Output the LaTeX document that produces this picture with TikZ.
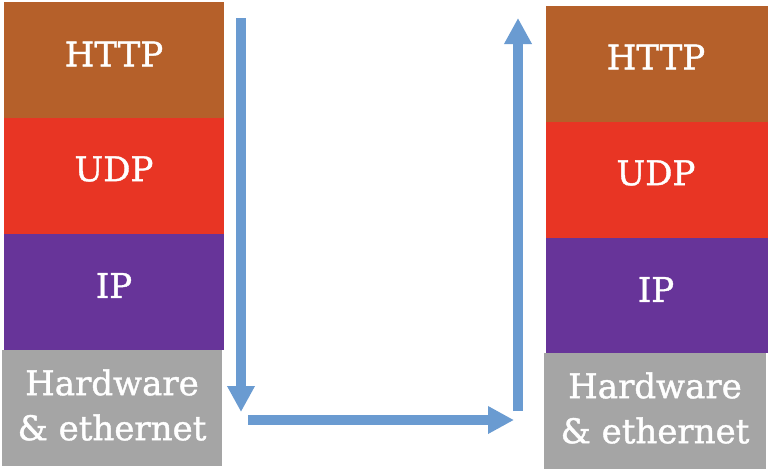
\documentclass[tikz,border=0pt]{standalone}
\usepackage{fontspec}
\setmainfont{DejaVu Serif}
\newfontfamily\lblfont[FakeBold=1.2]{DejaVu Serif}
\usetikzlibrary{arrows.meta}
\definecolor{cbrown}{HTML}{B5602A}
\definecolor{cred}{HTML}{E83524}
\definecolor{cpurple}{HTML}{673499}
\definecolor{cgray}{HTML}{A5A5A5}
\definecolor{cblue}{HTML}{6A9BD1}
\tikzset{
  lbl/.style={text=white, font=\lblfont\fontsize{25.5}{33.75}\selectfont, align=center, inner sep=0pt},
  flow/.style={draw=cblue, line width=7.5pt, -{Triangle[width=19.5pt,length=19.5pt]}}
}
\begin{document}
\begin{tikzpicture}[x=0.75pt,y=-0.75pt]
\useasboundingbox (0,0) rectangle (768,472);
% left stack
\fill[cbrown] (4,2) rectangle (224,117.5);
\fill[cred] (4,117.5) rectangle (224,234);
\fill[cpurple] (4,234) rectangle (224,350);
\fill[cgray] (2,350) rectangle (222,466);
\node[lbl] (lhttp) at (114,54) {HTTP};
\node[lbl] (ludp) at (114,169) {UDP};
\node[lbl] (lip) at (114,285.5) {IP};
\node[lbl] (lhw) at (112,405) {Hardware\\\& ethernet};
% right stack
\fill[cbrown] (546,6) rectangle (768,122);
\fill[cred] (546,122) rectangle (768,238);
\fill[cpurple] (546,238) rectangle (768,353);
\fill[cgray] (544,353) rectangle (766,469);
\node[lbl] (rhttp) at (656,57) {HTTP};
\node[lbl] (rudp) at (656,173) {UDP};
\node[lbl] (rip) at (656,289.5) {IP};
\node[lbl] (rhw) at (655,408) {Hardware\\\& ethernet};
% arrows
\coordinate (a1) at (241,18);
\coordinate (a2) at (241,412);
\coordinate (b1) at (248,420);
\coordinate (b2) at (514,420);
\coordinate (c1) at (518,411);
\coordinate (c2) at (518,18);
\draw[flow] (a1) -- (a2);
\draw[flow] (b1) -- (b2);
\draw[flow] (c1) -- (c2);
\end{tikzpicture}
\end{document}
